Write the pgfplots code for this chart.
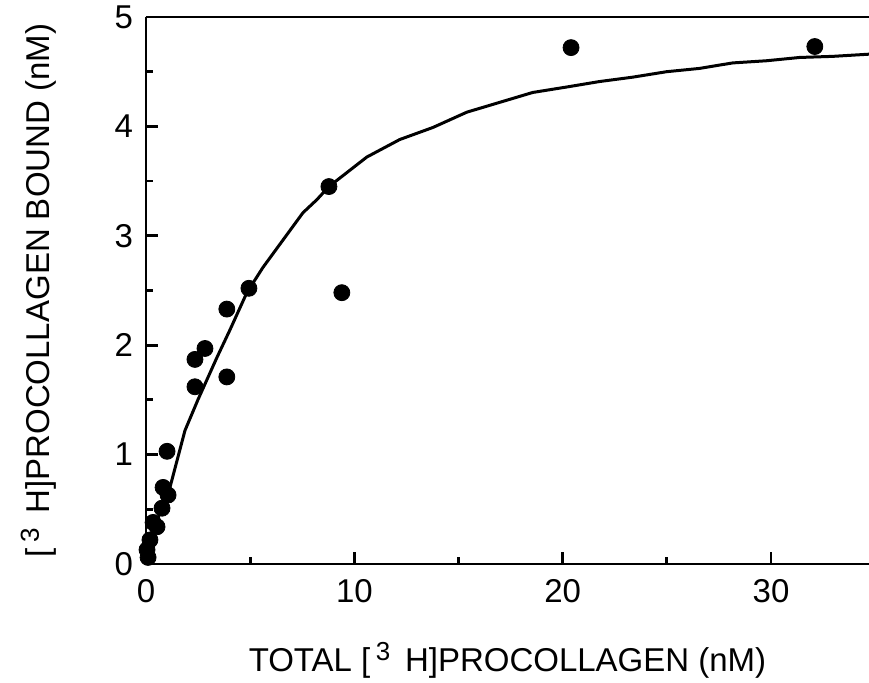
\documentclass[border=0pt]{standalone}
\usepackage{pgfplots}
\pgfplotsset{compat=1.18}
\usepackage{fontspec}
\setmainfont{Liberation Sans}
\begin{document}
\begin{tikzpicture}
\begin{axis}[
  name=ax,
  scale only axis,
  width=361.5pt, height=273.5pt,
  xmin=0, xmax=34.7, ymin=0, ymax=5,
  axis lines=left,
  axis line style={-, line width=1.4pt},
  xtick={0,10,20,30}, ytick={0,1,2,3,4,5},
  minor xtick={5,15,25},
  minor ytick={0.5,1.5,2.5,3.5,4.5},
  tick align=inside,
  major tick length=6pt, minor tick length=3.5pt,
  every tick/.style={line width=1.4pt, black},
  /pgf/number format/assume math mode=true,
  tick label style={font=\fontsize{16.5}{16.5}\selectfont},
  xticklabel style={yshift=-4pt},
  yticklabel style={xshift=-3pt},
  xlabel={TOTAL [\,\raisebox{5.5pt}{\fontsize{13}{13}\selectfont 3}\, H]PROCOLLAGEN (nM)},
  ylabel={[\,\raisebox{5.5pt}{\fontsize{13}{13}\selectfont 3}\, H]PROCOLLAGEN BOUND (nM)},
  label style={font=\fontsize{16.5}{16.5}\selectfont},
  xlabel style={at={(axis description cs:0.5,0)}, anchor=base, yshift=-54pt},
  ylabel style={at={(axis description cs:0,0.5)}, anchor=base, yshift=48pt},
  clip=false,
]
\draw[line width=1.4pt] (rel axis cs:0,1) -- (rel axis cs:1,1);
\addplot[black, line width=1.5pt, no marks] coordinates {
(0,0) (0.1,0.06) (0.43,0.31) (0.82,0.58) (1.15,0.70) (1.87,1.22)
(2.49,1.50) (3.41,1.89) (4.03,2.14) (4.84,2.48) (5.61,2.71) (6.57,2.96)
(7.53,3.21) (8.2,3.33) (8.78,3.45) (10.6,3.72) (12.18,3.88) (13.77,3.99)
(15.4,4.13) (16.98,4.22) (18.56,4.31) (20.19,4.36) (21.77,4.41) (23.36,4.45)
(24.99,4.50) (26.57,4.53) (28.15,4.58) (29.78,4.60) (31.37,4.63) (32.95,4.64)
(34.7,4.66)
};
\addplot[only marks, mark=*, mark size=4pt, black] coordinates {
(20.4,4.72) (32.1,4.73) (8.78,3.45) (9.4,2.48) (4.94,2.52) (3.88,2.33)
(3.88,1.71) (2.35,1.87) (2.83,1.97) (2.35,1.62) (1.01,1.03) (0.82,0.70)
(1.06,0.63) (0.77,0.51) (0.34,0.38) (0.53,0.34) (0.19,0.22) (0.05,0.13)
(0.1,0.06)
};
\end{axis}
\pgfresetboundingbox
\path[use as bounding box] ([shift={(-73pt,-59.5pt)}]ax.south west) rectangle ([shift={(0pt,8.5pt)}]ax.north east);
\end{tikzpicture}
\end{document}
